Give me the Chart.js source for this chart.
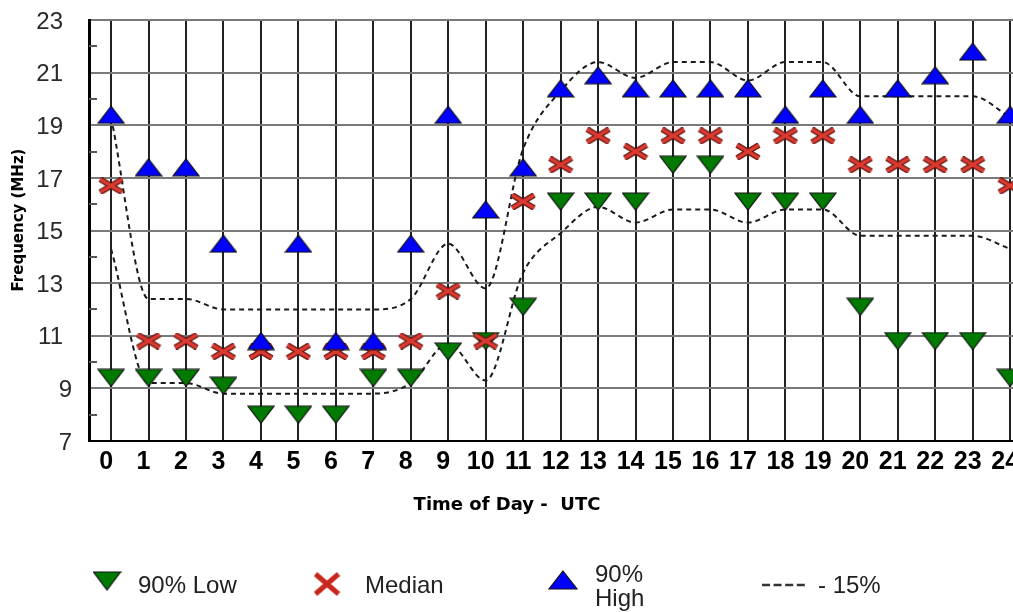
<!DOCTYPE html>
<html>
<head>
<meta charset="utf-8">
<script src="https://cdn.jsdelivr.net/npm/chart.js@4.4.1/dist/chart.umd.min.js"></script>
<style>
html,body{margin:0;padding:0;background:#fff;overflow:hidden;width:1013px;height:612px;}
canvas{display:block;}
</style>
</head>
<body>
<canvas id="c" width="1042" height="612"></canvas>
<script>
// ---- data ----
const hours = [0,1,2,3,4,5,6,7,8,9,10,11,12,13,14,15,16,17,18,19,20,21,22,23,24];
const low90  = [9.4,9.4,9.4,9.1,8.0,8.0,8.0,9.4,9.4,10.4,10.8,12.1,16.1,16.1,16.1,17.5,17.5,16.1,16.1,16.1,12.1,10.8,10.8,10.8,9.4];
const median = [16.7,10.8,10.8,10.4,10.4,10.4,10.4,10.4,10.8,12.7,10.8,16.1,17.5,18.6,18.0,18.6,18.6,18.0,18.6,18.6,17.5,17.5,17.5,17.5,16.7];
const high90 = [19.4,17.4,17.4,14.5,10.8,14.5,10.8,10.8,14.5,19.4,15.8,17.4,20.4,20.9,20.4,20.4,20.4,20.4,19.4,20.4,19.4,20.4,20.9,21.8,19.4];
const upperDash = [19.3,12.4,12.4,12.0,12.0,12.0,12.0,12.0,12.4,14.5,12.8,18.1,20.3,21.4,20.8,21.4,21.4,20.7,21.4,21.4,20.1,20.1,20.1,20.1,19.3];
const lowerDash = [14.3,9.2,9.2,8.8,8.8,8.8,8.8,8.8,9.2,10.7,9.3,13.4,14.9,15.9,15.3,15.8,15.8,15.3,15.8,15.8,14.8,14.8,14.8,14.8,14.3];
const yTickLabels = [7,9,11,13,15,17,19,21,23];
const yMinorTicks = [8,10,12,14,16,18,20,22];
const legendLabels = ['90% Low','Median','90%','High','- 15%'];
const xTitle = 'Time of Day -  UTC';
const yTitle = 'Frequency (MHz)';

// ---- marker images ----
function makeTri(w, h, fill, down){
  const c = document.createElement('canvas');
  c.width = w + 2; c.height = h + 2;
  const g = c.getContext('2d');
  g.beginPath();
  if (!down){ g.moveTo(1 + w/2, 1); g.lineTo(1 + w, 1 + h); g.lineTo(1, 1 + h); }
  else { g.moveTo(1, 1); g.lineTo(1 + w, 1); g.lineTo(1 + w/2, 1 + h); }
  g.closePath();
  g.fillStyle = fill; g.fill();
  g.strokeStyle = '#101010'; g.lineWidth = 1.2; g.stroke();
  return c;
}
function makeX(w, h, outline){
  const c = document.createElement('canvas');
  c.width = w + 4; c.height = h + 4;
  const g = c.getContext('2d');
  g.lineCap = 'butt';
  const segs = [[2,2,w+2,h+2],[w+2,2,2,h+2]];
  if (outline){
    g.strokeStyle = '#5c1410'; g.lineWidth = 6;
    segs.forEach(s=>{g.beginPath();g.moveTo(s[0],s[1]);g.lineTo(s[2],s[3]);g.stroke();});
    g.strokeStyle = '#dc3a30'; g.lineWidth = 3.6;
  } else {
    g.strokeStyle = '#c8281e'; g.lineWidth = 5;
  }
  segs.forEach(s=>{g.beginPath();g.moveTo(s[0],s[1]);g.lineTo(s[2],s[3]);g.stroke();});
  return c;
}
const triUp = makeTri(26, 17, '#0000ff', false);
const triDown = makeTri(26, 17, '#007a00', true);
const xMark = makeX(22, 13, true);
const legTriDown = makeTri(27, 18, '#007a00', true);
const legTriUp = makeTri(28, 18, '#0000ff', false);
const legX = makeX(23, 20, false);

const pts = arr => hours.map((h, i) => ({x: h, y: arr[i]}));

const decor = {
  id: 'decor',
  afterDraw(chart){
    const ctx = chart.ctx, ys = chart.scales.y, area = chart.chartArea;
    ctx.save();
    // minor ticks on the value axis
    ctx.strokeStyle = '#555'; ctx.lineWidth = 2;
    yMinorTicks.forEach(v => {
      const py = Math.round(ys.getPixelForValue(v));
      ctx.beginPath(); ctx.moveTo(area.left, py); ctx.lineTo(area.left + 8, py); ctx.stroke();
    });
    // value labels
    ctx.fillStyle = '#2a2a2a';
    ctx.font = '24px "Liberation Sans", Arial, sans-serif';
    ctx.textAlign = 'right'; ctx.textBaseline = 'middle';
    yTickLabels.forEach(v => {
      const s = String(v);
      const xr = s.length === 1 ? 72 : 63;
      ctx.fillText(s, xr, ys.getPixelForValue(v) + 2);
    });
    // axis titles
    ctx.fillStyle = '#000';
    ctx.font = 'bold 18px "DejaVu Sans", sans-serif';
    ctx.textAlign = 'center'; ctx.textBaseline = 'middle';
    ctx.fillText(xTitle, 507, 505);
    ctx.save();
    ctx.translate(19, 220); ctx.rotate(-Math.PI/2);
    ctx.font = 'bold 15px "DejaVu Sans", sans-serif';
    ctx.fillText(yTitle, 0, 0);
    ctx.restore();
    // legend
    ctx.drawImage(legTriDown, 107 - legTriDown.width/2, 581 - legTriDown.height/2);
    ctx.drawImage(legX, 327 - legX.width/2, 584 - legX.height/2);
    ctx.drawImage(legTriUp, 563 - legTriUp.width/2, 580 - legTriUp.height/2);
    ctx.fillStyle = '#222';
    ctx.font = '24px "Liberation Sans", Arial, sans-serif';
    ctx.textAlign = 'left'; ctx.textBaseline = 'alphabetic';
    ctx.fillText(legendLabels[0], 138, 593);
    ctx.fillText(legendLabels[1], 365, 593);
    ctx.fillText(legendLabels[2], 595, 582);
    ctx.fillText(legendLabels[3], 595, 606);
    ctx.fillText(legendLabels[4], 818, 593);
    ctx.strokeStyle = '#333'; ctx.lineWidth = 2.5; ctx.setLineDash([8, 3.6]);
    ctx.beginPath(); ctx.moveTo(762, 585); ctx.lineTo(806, 585); ctx.stroke();
    ctx.restore();
  }
};

new Chart(document.getElementById('c'), {
  type: 'line',
  data: {
    datasets: [
      {label: '90% High', data: pts(high90), showLine: false, pointStyle: triUp, pointRadius: 8, order: 0},
      {label: 'Median', data: pts(median), showLine: false, pointStyle: xMark, pointRadius: 8, order: 1},
      {label: '90% Low', data: pts(low90), showLine: false, pointStyle: triDown, pointRadius: 8, order: 2},
      {label: '+15%', data: pts(upperDash), borderColor: '#1a1a1a', borderWidth: 2, borderDash: [5, 4],
       pointRadius: 0, cubicInterpolationMode: 'monotone', fill: false, order: 3},
      {label: '-15%', data: pts(lowerDash), borderColor: '#1a1a1a', borderWidth: 2, borderDash: [5, 4],
       pointRadius: 0, cubicInterpolationMode: 'monotone', fill: false, order: 4}
    ]
  },
  options: {
    responsive: false,
    animation: false,
    events: [],
    layout: {padding: {left: 89, top: 20, right: 0, bottom: 129}},
    plugins: {legend: {display: false}, tooltip: {enabled: false}},
    scales: {
      x: {
        type: 'linear', min: -0.59, max: 24.61,
        afterBuildTicks: s => { s.ticks = hours.map(v => ({value: v})); },
        ticks: {font: {family: '"Liberation Sans", Arial, sans-serif', size: 25, weight: 'bold'}, color: '#000',
                padding: 6, labelOffset: -5, autoSkip: false, maxRotation: 0, callback: v => String(v)},
        grid: {color: '#222', lineWidth: 2, drawTicks: false},
        border: {color: '#000', width: 2}
      },
      y: {
        min: 7, max: 23,
        afterBuildTicks: s => { const t = []; for (let v = 7; v <= 23; v++) t.push({value: v}); s.ticks = t; },
        ticks: {display: false},
        grid: {color: c => (c.tick && c.tick.value % 2 === 1) ? '#7a7a7a' : 'rgba(0,0,0,0)', lineWidth: 2, drawTicks: false},
        border: {color: '#000', width: 3}
      }
    }
  },
  plugins: [decor]
});
</script>
</body>
</html>
